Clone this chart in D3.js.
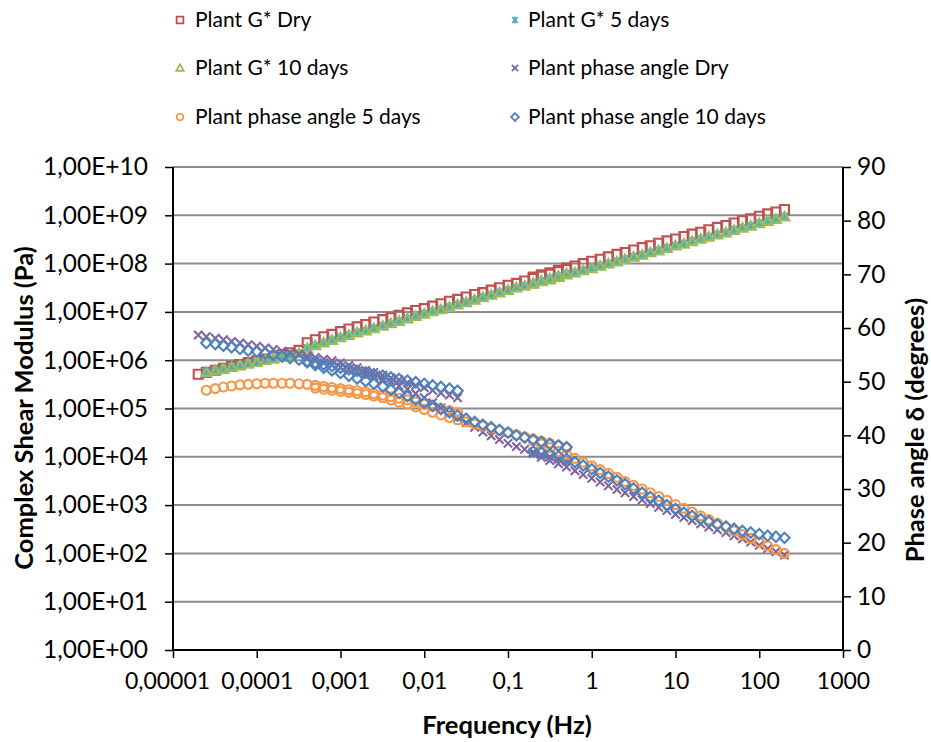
<!DOCTYPE html>
<html><head><meta charset="utf-8">
<script src="https://cdn.jsdelivr.net/npm/d3@7"></script>
<style>
body{margin:0;background:#fff;}
svg text{font-family:Lato,"Open Sans",sans-serif;fill:#000;}
</style></head><body>
<svg id="chart" width="931" height="742"></svg>
<script>
// ---- frequency sweeps (Hz) ----
const freqA = [2e-5,2.5e-5,3.2e-5,4e-5,5e-5,6.3e-5,7.9e-5,1e-4,1.26e-4,1.58e-4,2e-4,2.5e-4,3.2e-4,4e-4,5e-4,6.3e-4,7.9e-4,1e-3,1.26e-3,1.58e-3,2e-3,2.5e-3,3.2e-3,4e-3,5e-3,6.3e-3,7.9e-3,0.01,0.0126,0.0158,0.02,0.025];
const freqB = [4e-4,5e-4,6.3e-4,7.9e-4,1e-3,1.26e-3,1.58e-3,2e-3,2.5e-3,3.2e-3,4e-3,5e-3,6.3e-3,7.9e-3,0.01,0.0126,0.0158,0.02,0.025,0.0316,0.04,0.05,0.063,0.079,0.1,0.126,0.158,0.2,0.25,0.316,0.4,0.5];
const freqC = [0.2,0.25,0.316,0.4,0.5,0.63,0.79,1,1.26,1.58,2,2.5,3.16,4,5,6.3,7.9,10,12.6,15.8,20,25,31.6,40,50,63,79,100,126,158,200];

// ---- complex shear modulus G* (Pa) ----
const gDryA = [5.1e5,5.6e5,6.2e5,6.8e5,7.4e5,8.1e5,8.9e5,9.7e5,1.06e6,1.17e6,1.29e6,1.43e6,1.6e6];
const gDryB = [2.3e6,2.65e6,3.05e6,3.42e6,3.9e6,4.42e6,4.90e6,5.50e6,6.17e6,6.92e6,7.59e6,8.51e6,9.55e6,1.07e7,1.17e7,1.32e7,1.48e7,1.66e7,1.82e7,2.04e7,2.29e7,2.51e7,2.82e7,3.16e7,3.55e7,3.89e7,4.37e7,4.90e7,5.50e7,6.03e7,6.76e7,7.59e7];
const gDryC = [5.25e7,5.89e7,6.46e7,7.24e7,8.13e7,8.91e7,1.0e8,1.12e8,1.23e8,1.38e8,1.55e8,1.70e8,1.91e8,2.14e8,2.34e8,2.63e8,2.95e8,3.24e8,3.63e8,4.07e8,4.47e8,5.01e8,5.62e8,6.17e8,6.92e8,7.76e8,8.51e8,9.55e8,1.07e9,1.17e9,1.32e9];

const g5A = [null,5.7e5,6.1e5,6.7e5,7.3e5,7.9e5,8.6e5,9.3e5,1.01e6,1.09e6,1.19e6,1.29e6,1.40e6];
const g5B = [1.8e6,2.05e6,2.33e6,2.65e6,3.0e6,3.36e6,3.78e6,4.15e6,4.65e6,5.2e6,5.85e6,6.55e6,7.35e6,8.25e6,9.25e6,1.04e7,1.14e7,1.28e7,1.43e7,1.6e7,1.8e7,2.03e7,2.27e7,2.55e7,2.86e7,3.2e7,3.52e7,3.95e7,4.43e7,4.97e7,5.58e7,6.25e7];
const g5C = [3.85e7,4.3e7,4.75e7,5.3e7,5.95e7,6.55e7,7.3e7,8.05e7,9.0e7,1.01e8,1.12e8,1.25e8,1.4e8,1.53e8,1.72e8,1.89e8,2.12e8,2.37e8,2.6e8,2.92e8,3.28e8,3.6e8,4.03e8,4.43e8,4.96e8,5.56e8,6.1e8,6.85e8,7.7e8,8.45e8,9.45e8];

const g10A = [null,5.6e5,6.2e5,6.6e5,7.2e5,7.8e5,8.5e5,9.1e5,1.0e6,1.07e6,1.17e6,1.26e6,1.38e6];
const g10B = [1.76e6,2.02e6,2.3e6,2.6e6,2.95e6,3.31e6,3.72e6,4.07e6,4.57e6,5.13e6,5.75e6,6.46e6,7.24e6,8.13e6,9.12e6,1.02e7,1.12e7,1.26e7,1.41e7,1.58e7,1.78e7,2.0e7,2.24e7,2.51e7,2.82e7,3.16e7,3.47e7,3.89e7,4.37e7,4.90e7,5.50e7,6.17e7];
const g10C = [3.80e7,4.27e7,4.68e7,5.25e7,5.89e7,6.46e7,7.24e7,7.94e7,8.91e7,1.0e8,1.10e8,1.23e8,1.38e8,1.51e8,1.70e8,1.86e8,2.09e8,2.34e8,2.57e8,2.88e8,3.24e8,3.55e8,3.98e8,4.37e8,4.90e8,5.50e8,6.03e8,6.76e8,7.59e8,8.32e8,9.33e8];

// ---- phase angle (degrees) ----
const pDryA = [58.7,58.4,58.1,57.8,57.5,57.2,56.9,56.6,56.3,56.0,55.7,55.4,55.1,54.8,54.5,54.2,53.9,53.5,53.0,52.6,52.1,51.7,51.2,50.7,50.3,49.8,49.3,48.9,48.4,47.9,47.5,47.0];
const pDryB = [54.3,53.9,53.5,53.1,52.7,52.3,51.9,51.5,51.0,50.5,50.0,49.2,48.6,47.8,47.0,46.1,45.1,44.2,43.3,42.4,41.5,40.6,39.9,39.2,38.5,37.9,37.4,36.9,36.4,36.0,35.6,35.2];
const pDryC = [36.6,35.9,35.3,34.7,34.1,33.4,32.7,32.0,31.3,30.6,29.9,29.3,28.6,28.0,27.3,26.6,26.0,25.3,24.7,24.1,23.5,22.9,22.4,21.9,21.3,20.7,20.1,19.5,18.9,18.3,17.7];

const p5A = [null,48.4,48.7,49.0,49.2,49.4,49.5,49.6,49.7,49.7,49.7,49.7,49.6,49.5,49.3,49.1,48.9,48.7,48.5,48.3,48.1,47.8,47.5,47.2,46.9,46.6,46.2,45.8,45.4,45.0,44.6,44.2];
const p5B = [null,48.8,48.6,48.4,48.2,48.0,47.8,47.6,47.3,47.0,46.6,46.2,45.8,45.3,44.8,44.3,43.8,43.3,42.9,42.5,42.1,41.7,41.3,40.9,40.5,40.1,39.7,39.3,38.9,38.5,38.1,37.7];
const p5C = [39.0,38.4,37.7,37.0,36.4,35.7,35.0,34.3,33.6,32.9,32.2,31.4,30.7,30.0,29.3,28.6,27.9,27.1,26.4,25.7,25.0,24.3,23.6,22.9,22.2,21.5,20.8,20.1,19.4,18.7,18.0];

const p10A = [null,57.2,57.0,56.7,56.4,56.1,55.8,55.6,55.3,55.0,54.7,54.4,54.1,53.8,53.5,53.2,52.9,52.6,52.3,52.0,51.7,51.4,51.1,50.8,50.5,50.2,49.9,49.6,49.3,49.0,48.7,48.3];
const p10B = [53.6,53.1,52.6,52.1,51.6,51.1,50.6,50.1,49.6,49.1,48.5,47.9,47.3,46.7,46.1,45.5,44.9,44.3,43.7,43.1,42.5,42.0,41.5,41.0,40.5,40.0,39.6,39.2,38.8,38.4,38.1,37.8];
const p10C = [37.0,36.8,36.5,36.1,35.6,35.0,34.4,33.7,33.0,32.3,31.6,30.9,30.1,29.3,28.5,27.8,27.0,26.3,25.6,25.0,24.4,23.9,23.4,23.0,22.6,22.2,21.9,21.6,21.3,21.1,20.9];

// ---- labels ----
const seriesNames = ["Plant G* Dry","Plant G* 5 days","Plant G* 10 days","Plant phase angle Dry","Plant phase angle 5 days","Plant phase angle 10 days"];
const xTicks = [1e-5,1e-4,1e-3,1e-2,1e-1,1,10,100,1000];
const xTickLabels = ["0,00001","0,0001","0,001","0,01","0,1","1","10","100","1000"];
const yLeftTicks = [1,1e1,1e2,1e3,1e4,1e5,1e6,1e7,1e8,1e9,1e10];
const yLeftTickLabels = ["1,00E+00","1,00E+01","1,00E+02","1,00E+03","1,00E+04","1,00E+05","1,00E+06","1,00E+07","1,00E+08","1,00E+09","1,00E+10"];
const yRightTicks = [0,10,20,30,40,50,60,70,80,90];
const xTitle = "Frequency (Hz)";
const yLeftTitle = "Complex Shear Modulus (Pa)";
const yRightTitle = "Phase angle δ (degrees)";

// ---- drawing ----
const L = 173, R = 843, T = 167, B = 650;
const svg = d3.select("#chart");
const x = d3.scaleLog().domain([1e-5, 1e3]).range([L, R]);
const yL = d3.scaleLog().domain([1, 1e10]).range([B, T]);
const yR = d3.scaleLinear().domain([0, 90]).range([B, T]);

const FS_TICK = 24.5, FS_XTICK = 23, FS_LEG = 21, FS_TITLE = 25.5;
// gridlines
svg.append("g").selectAll("line").data(yLeftTicks.slice(1)).join("line")
  .attr("x1", L).attr("x2", R).attr("y1", d => yL(d)).attr("y2", d => yL(d))
  .attr("stroke", "#8c8c8c").attr("stroke-width", 2);

// axes
const axL = d3.axisLeft(yL).tickValues(yLeftTicks).tickSize(8).tickFormat((d,i) => yLeftTickLabels[i]);
const axR = d3.axisRight(yR).tickValues(yRightTicks).tickSize(8).tickFormat(d => String(d));
const axB = d3.axisBottom(x).tickValues(xTicks).tickSize(8).tickFormat((d,i) => xTickLabels[i]);
function style(g, fs){
  g.select(".domain").remove();
  g.selectAll(".tick line").attr("stroke","#000").attr("stroke-width",1.5);
  g.selectAll(".tick text").attr("font-size", fs).attr("font-family","Lato, 'Open Sans', sans-serif").attr("fill","#000");
}
svg.append("g").attr("transform",`translate(${L},0)`).call(axL).call(style, FS_TICK).call(g=>g.selectAll(".tick text").attr("x",-25));
svg.append("g").attr("transform",`translate(${R},0)`).call(axR).call(style, FS_TICK).call(g=>g.selectAll(".tick text").attr("x",14));
svg.append("g").attr("transform",`translate(0,${B})`).call(axB).call(style, FS_XTICK)
  .call(g=>g.selectAll(".tick text").attr("y",23).attr("dx",(d,i)=> i===0 ? -6 : 0));

// axis lines
svg.append("line").attr("x1",L).attr("x2",L).attr("y1",T).attr("y2",B).attr("stroke","#000").attr("stroke-width",2);
svg.append("line").attr("x1",R).attr("x2",R).attr("y1",T).attr("y2",B).attr("stroke","#000").attr("stroke-width",2);
svg.append("line").attr("x1",L).attr("x2",R).attr("y1",B).attr("y2",B).attr("stroke","#000").attr("stroke-width",2);

// titles
svg.append("text").attr("x",507).attr("y",734).attr("text-anchor","middle")
  .attr("font-size",FS_TITLE).attr("font-weight","bold").text(xTitle);
svg.append("text").attr("transform",`translate(33,408) rotate(-90)`).attr("text-anchor","middle")
  .attr("font-size",FS_TITLE).attr("font-weight","bold").text(yLeftTitle);
svg.append("text").attr("transform",`translate(924,430) rotate(-90)`).attr("text-anchor","middle")
  .attr("font-size",FS_TITLE).attr("font-weight","bold").text(yRightTitle);

// markers
const markers = {
  square:  "M-4.5,-4.5H4.5V4.5H-4.5Z",
  star:    "M-3.7,-3.7L3.7,3.7M-3.7,3.7L3.7,-3.7M0,-4.5V4.5",
  triangle:"M0,-4.8L4.9,3.8H-4.9Z",
  cross:   "M-4.2,-4.2L4.2,4.2M-4.2,4.2L4.2,-4.2",
  circle:  d3.symbol(d3.symbolCircle, 64)(),
  diamond: "M0,-5.2L5.2,0L0,5.2L-5.2,0Z"
};
const series = [
  {name:seriesNames[0], color:"#C0504D", m:"square",   axis:"L", segs:[[freqA,gDryA],[freqB,gDryB],[freqC,gDryC]]},
  {name:seriesNames[1], color:"#4BACC6", m:"star",     axis:"L", segs:[[freqA,g5A],[freqB,g5B],[freqC,g5C]]},
  {name:seriesNames[2], color:"#9BBB59", m:"triangle", axis:"L", segs:[[freqA,g10A],[freqB,g10B],[freqC,g10C]]},
  {name:seriesNames[3], color:"#8064A2", m:"cross",    axis:"R", segs:[[freqA,pDryA],[freqB,pDryB],[freqC,pDryC]]},
  {name:seriesNames[4], color:"#F79646", m:"circle",   axis:"R", segs:[[freqA,p5A],[freqB,p5B],[freqC,p5C]]},
  {name:seriesNames[5], color:"#4F81BD", m:"diamond",  axis:"R", segs:[[freqA,p10A],[freqB,p10B],[freqC,p10C]]}
];
const plot = svg.append("g");
series.forEach(s => {
  const ys = s.axis === "L" ? yL : yR;
  const pts = [];
  s.segs.forEach(([fs, vs]) => vs.forEach((v,i) => { if (v != null) pts.push([fs[i], v]); }));
  plot.append("g").selectAll("path").data(pts).join("path")
    .attr("transform", d => `translate(${x(d[0])},${ys(d[1])})`)
    .attr("d", markers[s.m]).attr("fill","none")
    .attr("stroke", s.color).attr("stroke-width", 2.1);
});

// legend
const legCols = [180, 515], legRows = [20, 68, 117];
series.forEach((s,i) => {
  const cx = legCols[i % 2], cy = legRows[Math.floor(i/2)];
  const g = svg.append("g");
  g.append("path").attr("transform",`translate(${cx},${cy}) scale(0.75)`).attr("d", markers[s.m])
    .attr("fill","none").attr("stroke", s.color).attr("stroke-width", 2.4);
  g.append("text").attr("x", cx + (i % 2 ? 13 : 15)).attr("y", cy).attr("dy","0.35em").attr("font-size",FS_LEG).text(s.name);
});
</script>
</body></html>
